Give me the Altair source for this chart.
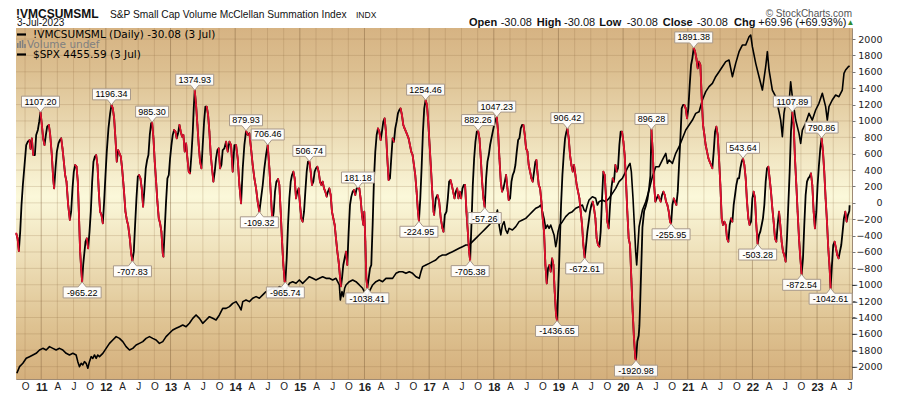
import altair as alt
import pandas as pd
import numpy as np

# ---------------- data ----------------
# McClellan Summation Index (decimal year, value)
msi_t = [2010.613, 2010.634, 2010.654, 2010.675, 2010.695, 2010.716, 2010.742, 2010.768, 2010.793, 2010.819,
         2010.835, 2010.855, 2010.876, 2010.902, 2010.922, 2010.948, 2010.969, 2010.989, 2011.010, 2011.030,
         2011.051, 2011.072, 2011.092, 2011.118, 2011.139, 2011.164, 2011.185, 2011.200, 2011.221, 2011.242,
         2011.267, 2011.288, 2011.309, 2011.329, 2011.350, 2011.370, 2011.391, 2011.417, 2011.443, 2011.463,
         2011.484, 2011.504, 2011.525, 2011.546, 2011.566, 2011.582, 2011.602, 2011.618, 2011.633, 2011.649,
         2011.664, 2011.685, 2011.705, 2011.726, 2011.747, 2011.767, 2011.788, 2011.808, 2011.829, 2011.850,
         2011.870, 2011.891, 2011.911, 2011.932, 2011.953, 2011.973, 2011.994, 2012.014, 2012.040, 2012.066,
         2012.087, 2012.107, 2012.128, 2012.148, 2012.169, 2012.190, 2012.210, 2012.231, 2012.251, 2012.277,
         2012.303, 2012.324, 2012.344, 2012.370, 2012.391, 2012.411, 2012.432, 2012.452, 2012.473, 2012.494,
         2012.514, 2012.535, 2012.555, 2012.576, 2012.597, 2012.617, 2012.638, 2012.658, 2012.679, 2012.700,
         2012.715, 2012.736, 2012.756, 2012.777, 2012.797, 2012.818, 2012.839, 2012.859, 2012.880, 2012.890,
         2012.911, 2012.931, 2012.952, 2012.973, 2012.993, 2013.014, 2013.034, 2013.055, 2013.076, 2013.096,
         2013.117, 2013.138, 2013.158, 2013.179, 2013.199, 2013.220, 2013.241, 2013.261, 2013.282, 2013.302,
         2013.323, 2013.344, 2013.359, 2013.374, 2013.395, 2013.416, 2013.436, 2013.457, 2013.478, 2013.498,
         2013.519, 2013.539, 2013.560, 2013.581, 2013.601, 2013.622, 2013.642, 2013.663, 2013.684, 2013.704,
         2013.725, 2013.745, 2013.766, 2013.787, 2013.807, 2013.833, 2013.859, 2013.885, 2013.911, 2013.936,
         2013.962, 2013.988, 2014.014, 2014.039, 2014.065, 2014.091, 2014.117, 2014.142, 2014.168, 2014.194,
         2014.220, 2014.245, 2014.271, 2014.297, 2014.323, 2014.348, 2014.374, 2014.400, 2014.426, 2014.451,
         2014.477, 2014.503, 2014.529, 2014.555, 2014.575, 2014.596, 2014.616, 2014.637, 2014.663, 2014.683,
         2014.704, 2014.725, 2014.745, 2014.766, 2014.776, 2014.797, 2014.817, 2014.838, 2014.859, 2014.879,
         2014.900, 2014.920, 2014.941, 2014.962, 2014.982, 2015.003, 2015.023, 2015.044, 2015.065, 2015.085,
         2015.106, 2015.126, 2015.147, 2015.168, 2015.188, 2015.209, 2015.229, 2015.250, 2015.271, 2015.291,
         2015.312, 2015.332, 2015.353, 2015.374, 2015.394, 2015.415, 2015.435, 2015.456, 2015.477, 2015.497,
         2015.518, 2015.539, 2015.559, 2015.580, 2015.600, 2015.621, 2015.636, 2015.652, 2015.672, 2015.693,
         2015.714, 2015.734, 2015.755, 2015.776, 2015.796, 2015.817, 2015.837, 2015.858, 2015.879, 2015.899,
         2015.920, 2015.940, 2015.961, 2015.982, 2015.997, 2016.013, 2016.028, 2016.044, 2016.064, 2016.085,
         2016.105, 2016.126, 2016.147, 2016.167, 2016.188, 2016.208, 2016.229, 2016.250, 2016.270, 2016.291,
         2016.311, 2016.332, 2016.353, 2016.373, 2016.394, 2016.414, 2016.435, 2016.456, 2016.476, 2016.497,
         2016.517, 2016.538, 2016.558, 2016.579, 2016.600, 2016.620, 2016.641, 2016.662, 2016.682, 2016.703,
         2016.723, 2016.744, 2016.765, 2016.785, 2016.806, 2016.827, 2016.842, 2016.863, 2016.883, 2016.904,
         2016.924, 2016.945, 2016.966, 2016.986, 2017.007, 2017.028, 2017.048, 2017.069, 2017.077, 2017.103,
         2017.129, 2017.155, 2017.180, 2017.206, 2017.222, 2017.242, 2017.268, 2017.289, 2017.309, 2017.330,
         2017.350, 2017.371, 2017.392, 2017.412, 2017.433, 2017.453, 2017.474, 2017.495, 2017.515, 2017.536,
         2017.556, 2017.577, 2017.598, 2017.618, 2017.634, 2017.654, 2017.675, 2017.696, 2017.716, 2017.737,
         2017.757, 2017.778, 2017.799, 2017.819, 2017.840, 2017.860, 2017.881, 2017.902, 2017.922, 2017.943,
         2017.963, 2017.984, 2018.005, 2018.025, 2018.046, 2018.066, 2018.087, 2018.108, 2018.128, 2018.149,
         2018.170, 2018.190, 2018.211, 2018.231, 2018.252, 2018.273, 2018.293, 2018.314, 2018.334, 2018.355,
         2018.376, 2018.396, 2018.417, 2018.437, 2018.458, 2018.479, 2018.499, 2018.520, 2018.540, 2018.561,
         2018.582, 2018.602, 2018.623, 2018.643, 2018.659, 2018.674, 2018.695, 2018.716, 2018.736, 2018.757,
         2018.777, 2018.798, 2018.819, 2018.839, 2018.860, 2018.880, 2018.901, 2018.922, 2018.942, 2018.963,
         2018.978, 2018.999, 2019.020, 2019.040, 2019.061, 2019.081, 2019.102, 2019.123, 2019.138, 2019.159,
         2019.179, 2019.200, 2019.221, 2019.241, 2019.262, 2019.282, 2019.303, 2019.324, 2019.344, 2019.365,
         2019.385, 2019.406, 2019.427, 2019.447, 2019.468, 2019.488, 2019.509, 2019.530, 2019.550, 2019.571,
         2019.591, 2019.612, 2019.633, 2019.653, 2019.674, 2019.694, 2019.715, 2019.736, 2019.756, 2019.777,
         2019.798, 2019.818, 2019.839, 2019.859, 2019.880, 2019.901, 2019.921, 2019.942, 2019.962, 2019.983,
         2020.004, 2020.024, 2020.045, 2020.065, 2020.086, 2020.107, 2020.127, 2020.148, 2020.168, 2020.189,
         2020.199, 2020.220, 2020.241, 2020.252, 2020.263, 2020.278, 2020.299, 2020.325, 2020.350, 2020.376,
         2020.402, 2020.422, 2020.438, 2020.458, 2020.479, 2020.499, 2020.520, 2020.541, 2020.561, 2020.582,
         2020.602, 2020.623, 2020.644, 2020.664, 2020.685, 2020.706, 2020.726, 2020.742, 2020.762, 2020.783,
         2020.803, 2020.824, 2020.845, 2020.865, 2020.886, 2020.906, 2020.927, 2020.948, 2020.968, 2020.989,
         2021.009, 2021.030, 2021.051, 2021.071, 2021.092, 2021.113, 2021.133, 2021.154, 2021.174, 2021.195,
         2021.216, 2021.236, 2021.257, 2021.277, 2021.298, 2021.319, 2021.339, 2021.360, 2021.380, 2021.401,
         2021.422, 2021.442, 2021.463, 2021.483, 2021.504, 2021.525, 2021.545, 2021.566, 2021.587, 2021.607,
         2021.628, 2021.648, 2021.669, 2021.690, 2021.710, 2021.731, 2021.751, 2021.772, 2021.793, 2021.813,
         2021.834, 2021.854, 2021.875, 2021.896, 2021.916, 2021.937, 2021.957, 2021.978, 2021.999, 2022.019,
         2022.040, 2022.060, 2022.081, 2022.102, 2022.122, 2022.143, 2022.163, 2022.184, 2022.205, 2022.225,
         2022.246, 2022.266, 2022.287, 2022.308, 2022.328, 2022.349, 2022.370, 2022.390, 2022.411, 2022.431,
         2022.452, 2022.473, 2022.493, 2022.514, 2022.534, 2022.555, 2022.576, 2022.596, 2022.617, 2022.638,
         2022.658, 2022.679, 2022.699, 2022.720, 2022.741, 2022.761, 2022.782, 2022.802, 2022.823, 2022.844,
         2022.864, 2022.885, 2022.905, 2022.926, 2022.947, 2022.967, 2022.988, 2023.008, 2023.029, 2023.050,
         2023.070, 2023.091, 2023.111, 2023.132, 2023.153, 2023.173, 2023.194, 2023.209, 2023.230, 2023.250,
         2023.271, 2023.292, 2023.312, 2023.333, 2023.353, 2023.374, 2023.395, 2023.415, 2023.436, 2023.457,
         2023.477, 2023.499, 2023.503]
msi_v = [-372, -433, -588, -352, -26, 218, 462, 706, 747, 767,
         658, 788, 584, 584, 829, 890, 991, 1107.20, 951, 788,
         706, 829, 930, 951, 829, 584, 299, 177, 422, 625,
         727, 767, 788, 666, 503, 340, 259, -26, -209, -108,
         177, 381, 462, 442, 259, -108, -596, -800, -965.22, -759,
         -637, -474, -433, -555, -352, -108, 259, 503, 564, 584,
         462, 137, -108, -148, -250, 15, 340, 625, 910, 1093,
         1196.34, 1154, 1032, 788, 503, 645, 605, 564, 422, 177,
         -108, -209, -270, -433, -616, -707.83, -596, -270, 55, 320,
         340, 299, 177, -47, 177, 422, 523, 584, 829, 971,
         985.30, 788, 503, 259, 15, -189, -250, -352, -616, -657,
         -311, 15, 299, 340, 544, 706, 829, 890, 869, 788,
         849, 951, 869, 808, 829, 625, 727, 544, 381, 360,
         584, 869, 1154, 1374.93, 1195, 951, 706, 503, 422, 706,
         991, 1174, 1174, 1073, 869, 584, 422, 259, 381, 544,
         645, 666, 422, 462, 645, 666, 747, 625, 747, 706,
         381, 706, 706, 544, 218, -6, 422, 706, 879.93, 829,
         849, 666, 462, 299, 177, 15, -109.32, 55, 218, 422,
         584, 706.46, 422, 55, -230, -108, 137, 259, 291, 218,
         -108, -474, -759, -962, -965.74, -677, -270, 55, 259, 340,
         381, 299, 55, 137, 177, -26, -189, -230, -108, 137,
         381, 503, 506.74, 381, 218, 259, 381, 422, 442, 381,
         259, 218, 259, 177, 137, 76, 137, 177, 96, -108,
         -189, -270, -433, -596, -718, -900, -1020, -922, -759, -677,
         -596, -759, -352, -26, 76, 137, 157, 96, 177, 181.18,
         177, 55, -148, -270, -108, -474, -922, -1038.41, -922, -800,
         -759, -270, 299, 625, 829, 910, 869, 767, 869, 991,
         1032, 869, 544, 279, 299, 544, 788, 747, 910, 991,
         1093, 1134, 1154, 1073, 951, 910, 869, 829, 788, 706,
         625, 584, 462, 340, 137, -108, -224.95, 55, 422, 869,
         1154, 1254.46, 1195, 991, 706, 422, 137, -108, -148, 55,
         96, 15, -189, -311, -352, -148, -108, 55, 259, 279,
         218, 137, 55, 137, 177, 55, 137, 55, 177, 218,
         218, -108, -352, -596, -705.38, -270, 218, 544, 747, 869,
         882.26, 788, 544, 259, 55, -57.26, 299, 503, 584, 706,
         788, 869, 951, 1012, 1047.23, 869, 544, 259, 137, 177,
         259, 340, 177, 34, 55, 259, 340, 381, 462, 625,
         767, 788, 910, 951, 951, 829, 666, 625, 462, 381,
         299, 259, 381, 503, 523, 381, 218, 177, 15, -189,
         -352, -759, -983, -800, -759, -840, -677, -759, -1084, -1369,
         -1436.65, -1003, -515, -26, 340, 584, 788, 869, 906.42, 788,
         584, 462, 381, 462, 340, 218, 137, 55, -108, -270,
         -515, -672.61, -515, -352, -230, -108, -26, 15, -67, -189,
         -433, -515, -535, -352, 55, 381, 340, 55, -230, -311,
         -26, 177, 299, 259, 462, 381, 422, 706, 869, 869,
         747, 584, 259, -108, -433, -515, -922, -1328, -1654, -1898,
         -1920.98, -1690, -1620, -1500, -1250, -850, -300, -100, -40, 40,
         180, 330, 896.28, 626, 218, 15, 55, 96, 55, 15,
         96, 137, 96, 15, -26, -108, -230, -255.95, -26, 55,
         15, -26, 137, 462, 788, 1154, 1195, 1195, 1154, 1032,
         1154, 1439, 1683, 1765, 1891.38, 1846, 1765, 1643, 1724, 1683,
         1276, 951, 829, 706, 625, 544, 503, 462, 422, 625,
         869, 930, 829, 544, 218, -189, -270, -230, -270, -433,
         -474, -270, -189, -230, -26, 96, 218, 299, 299, 422,
         503, 543.64, 462, 299, 15, -189, -270, -230, 55, 137,
         55, -270, -503.28, -392, -352, -270, -189, -26, 259, 422,
         442, 299, 137, -67, -230, -433, -474, -270, -108, -270,
         -474, -596, -637, -718, -433, -26, 381, 869, 1107.89, 951,
         544, 218, -108, -433, -677, -872.54, -677, -270, 96, 259,
         299, 320, 360, 218, -108, -311, -108, 218, 462, 666,
         790.86, 625, 381, 55, -230, -555, -800, -1042.61, -759, -515,
         -474, -555, -637, -677, -596, -515, -352, -189, -108, -230,
         -150, -100.04, -30.08]

# S&P 500 overlay (decimal year, close)
spx_t = [2010.623, 2010.665, 2010.716, 2010.768, 2010.819, 2010.871, 2010.922, 2010.974, 2011.025, 2011.077,
         2011.128, 2011.180, 2011.231, 2011.283, 2011.334, 2011.386, 2011.437, 2011.489, 2011.540, 2011.566,
         2011.592, 2011.618, 2011.643, 2011.669, 2011.695, 2011.721, 2011.746, 2011.772, 2011.798, 2011.824,
         2011.850, 2011.875, 2011.901, 2011.953, 2012.004, 2012.056, 2012.107, 2012.159, 2012.210, 2012.262,
         2012.313, 2012.365, 2012.416, 2012.468, 2012.519, 2012.571, 2012.622, 2012.674, 2012.725, 2012.777,
         2012.828, 2012.880, 2012.931, 2012.983, 2013.034, 2013.086, 2013.138, 2013.189, 2013.241, 2013.292,
         2013.344, 2013.395, 2013.447, 2013.498, 2013.550, 2013.601, 2013.653, 2013.704, 2013.756, 2013.807,
         2013.859, 2013.911, 2013.962, 2014.014, 2014.065, 2014.091, 2014.117, 2014.168, 2014.220, 2014.271,
         2014.323, 2014.374, 2014.426, 2014.477, 2014.529, 2014.580, 2014.632, 2014.683, 2014.735, 2014.761,
         2014.786, 2014.838, 2014.889, 2014.941, 2014.992, 2015.044, 2015.096, 2015.147, 2015.199, 2015.250,
         2015.302, 2015.353, 2015.405, 2015.456, 2015.508, 2015.559, 2015.611, 2015.626, 2015.652, 2015.672,
         2015.693, 2015.714, 2015.765, 2015.817, 2015.868, 2015.920, 2015.971, 2016.023, 2016.049, 2016.074,
         2016.126, 2016.177, 2016.229, 2016.280, 2016.332, 2016.383, 2016.435, 2016.487, 2016.538, 2016.589,
         2016.641, 2016.693, 2016.744, 2016.796, 2016.847, 2016.873, 2016.899, 2016.950, 2017.002, 2017.053,
         2017.103, 2017.155, 2017.206, 2017.258, 2017.309, 2017.361, 2017.412, 2017.464, 2017.515, 2017.567,
         2017.618, 2017.670, 2017.721, 2017.773, 2017.824, 2017.876, 2017.927, 2017.979, 2018.030, 2018.056,
         2018.082, 2018.108, 2018.133, 2018.159, 2018.185, 2018.211, 2018.236, 2018.288, 2018.340, 2018.391,
         2018.443, 2018.494, 2018.546, 2018.597, 2018.649, 2018.700, 2018.726, 2018.752, 2018.777, 2018.803,
         2018.829, 2018.855, 2018.880, 2018.906, 2018.932, 2018.958, 2018.973, 2018.994, 2019.020, 2019.061,
         2019.112, 2019.164, 2019.215, 2019.267, 2019.318, 2019.370, 2019.396, 2019.421, 2019.447, 2019.473,
         2019.524, 2019.576, 2019.602, 2019.628, 2019.679, 2019.731, 2019.782, 2019.834, 2019.885, 2019.937,
         2019.988, 2020.040, 2020.091, 2020.107, 2020.127, 2020.153, 2020.174, 2020.194, 2020.210, 2020.247,
         2020.299, 2020.350, 2020.402, 2020.453, 2020.505, 2020.556, 2020.608, 2020.660, 2020.685, 2020.711,
         2020.763, 2020.814, 2020.866, 2020.969, 2021.072, 2021.123, 2021.175, 2021.226, 2021.278, 2021.329,
         2021.381, 2021.432, 2021.484, 2021.535, 2021.587, 2021.638, 2021.690, 2021.741, 2021.793, 2021.844,
         2021.896, 2021.948, 2021.973, 2021.999, 2022.051, 2022.102, 2022.154, 2022.205, 2022.231, 2022.257,
         2022.308, 2022.360, 2022.411, 2022.437, 2022.463, 2022.488, 2022.514, 2022.566, 2022.591, 2022.617,
         2022.669, 2022.720, 2022.746, 2022.772, 2022.823, 2022.875, 2022.926, 2022.978, 2023.029, 2023.081,
         2023.132, 2023.158, 2023.184, 2023.235, 2023.287, 2023.338, 2023.390, 2023.416, 2023.441, 2023.483,
         2023.503]
spx_v = [1066, 1139, 1176, 1231, 1249, 1268, 1286, 1323, 1341, 1323,
         1360, 1341, 1323, 1341, 1323, 1286, 1268, 1286, 1268, 1194,
         1139, 1176, 1158, 1194, 1176, 1121, 1194, 1249, 1231, 1268,
         1231, 1268, 1249, 1286, 1341, 1396, 1433, 1470, 1451, 1415,
         1360, 1323, 1341, 1378, 1396, 1415, 1451, 1470, 1451, 1433,
         1396, 1415, 1470, 1507, 1543, 1562, 1580, 1598, 1580, 1617,
         1672, 1709, 1672, 1617, 1654, 1690, 1672, 1654, 1709, 1782,
         1782, 1801, 1837, 1856, 1801, 1764, 1856, 1874, 1856, 1893,
         1911, 1893, 1930, 1966, 1984, 2003, 1984, 2021, 2003, 1966,
         1984, 2058, 2076, 2058, 2095, 2058, 2095, 2131, 2113, 2095,
         2113, 2131, 2113, 2113, 2095, 2113, 2040, 1874, 1966, 1911,
         2003, 2040, 2076, 2095, 2076, 2040, 2003, 1929, 1911, 1966,
         2040, 2076, 2095, 2076, 2113, 2113, 2113, 2168, 2186, 2186,
         2168, 2186, 2168, 2131, 2113, 2186, 2242, 2260, 2278, 2297,
         2315, 2352, 2370, 2370, 2389, 2407, 2425, 2444, 2462, 2480,
         2480, 2517, 2554, 2591, 2627, 2664, 2701, 2738, 2793, 2866,
         2701, 2591, 2701, 2738, 2646, 2609, 2664, 2646, 2683, 2738,
         2756, 2774, 2811, 2848, 2885, 2903, 2921, 2848, 2774, 2664,
         2701, 2664, 2701, 2646, 2591, 2462, 2517, 2627, 2701, 2738,
         2793, 2830, 2848, 2885, 2903, 2921, 2866, 2848, 2921, 2977,
         3013, 2995, 2921, 2958, 2977, 2958, 2995, 3050, 3105, 3179,
         3215, 3289, 3363, 3381, 3289, 2995, 2701, 2407, 2260, 2682,
         2866, 2958, 3087, 3234, 3344, 3344, 3418, 3491, 3381, 3418,
         3381, 3491, 3564, 3748, 3858, 3932, 3950, 4079, 4171, 4226,
         4263, 4336, 4391, 4446, 4502, 4520, 4336, 4483, 4612, 4685,
         4685, 4777, 4796, 4667, 4483, 4336, 4189, 4446, 4612, 4410,
         4189, 4116, 3950, 3858, 3675, 3932, 4042, 4042, 4281, 4116,
         3858, 3711, 3601, 3748, 3822, 3932, 3858, 3969, 4042, 4153,
         4006, 3858, 4006, 4079, 4134, 4116, 4189, 4373, 4410, 4446,
         4455.59]

# annotated peaks / troughs
lab_t = [2010.989, 2011.633, 2012.087, 2012.411, 2012.715, 2013.374, 2014.168, 2014.374, 2014.503, 2014.776,
         2015.147, 2015.899, 2016.044, 2016.842, 2016.945, 2017.634, 2017.757, 2017.860, 2018.046, 2018.978,
         2019.138, 2019.406, 2020.199, 2020.438, 2020.742, 2021.092, 2021.854, 2022.081, 2022.617, 2022.761,
         2023.070, 2023.209]
lab_v = [1107.20, -965.22, 1196.34, -707.83, 985.30, 1374.93, 879.93, -109.32, 706.46, -965.74,
         506.74, 181.18, -1038.41, -224.95, 1254.46, -705.38, 882.26, -57.26, 1047.23, -1436.65,
         906.42, -672.61, -1920.98, 896.28, -255.95, 1891.38, 543.64, -503.28, 1107.89, -872.54,
         790.86, -1042.61]
lab_kind = ["peak", "trough", "peak", "trough", "peak", "peak", "peak", "trough", "peak", "trough",
            "peak", "peak", "trough", "trough", "peak", "trough", "peak", "trough", "peak", "trough",
            "peak", "trough", "trough", "peak", "trough", "peak", "peak", "trough", "peak", "trough",
            "peak", "trough"]

# ---------------- layout ----------------
W, H = 836, 351
X0, X1 = 2010.61, 2023.54
xs = alt.Scale(domain=[X0, X1], nice=False, zero=False)
ys = alt.Scale(domain=[-2151, 2135], nice=False, zero=False)
ss = alt.Scale(domain=[1003, 4873], nice=False, zero=False)

RED = "#e3112f"
FONT = "Liberation Sans"
VFONT = "DejaVu Sans"

quarters = [2010.75 + 0.25 * i for i in range(52)]
levels = list(range(-2000, 2001, 200))

x_axis = alt.Axis(
    values=quarters, title=None, grid=False, domain=False, ticks=False,
    labelFlush=False, labelOverlap=False, labelPadding=2,
    labelExpr="datum.value % 1 == 0 ? format(datum.value % 100, '02d') : "
              "(datum.value % 1 == 0.25 ? 'A' : (datum.value % 1 == 0.5 ? 'J' : 'O'))",
    labelFontWeight={"condition": {"test": "datum.value % 1 == 0", "value": "bold"}, "value": "normal"},
    labelFontSize={"condition": {"test": "datum.value % 1 == 0", "value": 11}, "value": 10},
    labelFont=FONT, labelColor="#222")

msi = pd.DataFrame({"t": msi_t, "v": msi_v})
seg = msi.assign(t2=msi["t"].shift(-1), v2=msi["v"].shift(-1)).dropna()
down = seg[seg["v2"] < seg["v"]]
spx = pd.DataFrame({"t": spx_t, "s": spx_v})
labs = pd.DataFrame({"t": lab_t, "v": lab_v, "kind": lab_kind})
one = pd.DataFrame({"a": [1]})

bg = alt.Chart(one).mark_rect(
    color=alt.Gradient(gradient="linear", x1=0, x2=0, y1=0, y2=1,
                       stops=[alt.GradientStop(offset=0, color="#d6b383"),
                              alt.GradientStop(offset=0.12, color="#dcbf90"),
                              alt.GradientStop(offset=0.48, color="#fbf8da"),
                              alt.GradientStop(offset=0.85, color="#dec291"),
                              alt.GradientStop(offset=1, color="#d4af7c")])
).encode(x=alt.value(0), x2=alt.value(W), y=alt.value(0), y2=alt.value(H))

hgrid = alt.Chart(pd.DataFrame({"g": levels})).mark_rule(
    stroke="#8c6a40", strokeOpacity=0.22, strokeWidth=1
).encode(y=alt.Y("g:Q", scale=ys, axis=alt.Axis(
    orient="right", values=levels, format="d", title=None, grid=False, domain=False,
    tickSize=3, tickColor="#777", labelAlign="right", labelPadding=27,
    labelFont=VFONT, labelFontSize=9.5, labelColor="#222")))

vgrid = alt.Chart(pd.DataFrame({"q": quarters})).mark_rule(strokeWidth=1).encode(
    x=alt.X("q:Q", scale=xs, axis=x_axis),
    stroke=alt.condition("datum.q % 1 == 0", alt.value("#7a5a38"), alt.value("#8c6a40")),
    strokeOpacity=alt.condition("datum.q % 1 == 0", alt.value(0.42), alt.value(0.22)))

spx_line = alt.Chart(spx).mark_line(color="#000", strokeWidth=1.6, strokeJoin="round").encode(
    x=alt.X("t:Q", scale=xs, axis=x_axis),
    y=alt.Y("s:Q", scale=ss, axis=None))

msi_line = alt.Chart(msi).mark_line(color="#000", strokeWidth=1.8, strokeJoin="round").encode(
    x=alt.X("t:Q", scale=xs, axis=x_axis),
    y=alt.Y("v:Q", scale=ys, axis=None))

msi_red = alt.Chart(down).mark_rule(color=RED, strokeWidth=1.8, strokeCap="round").encode(
    x=alt.X("t:Q", scale=xs, axis=x_axis), x2="t2:Q",
    y=alt.Y("v:Q", scale=ys, axis=None), y2="v2:Q")

lab_base = alt.Chart(labs).transform_calculate(
    label="(datum.v < 0 ? '-' : '') + format(abs(datum.v), '.2f')"
).transform_calculate(
    hw="(length(datum.label) * 5 + 3) / 2"
).transform_calculate(
    path="datum.kind == 'peak' ? "
         "'M0,0L-4,-5L' + (-datum.hw) + ',-5L' + (-datum.hw) + ',-16L' + datum.hw + ',-16L' + datum.hw + ',-5L4,-5Z' : "
         "'M0,0L-4,5L' + (-datum.hw) + ',5L' + (-datum.hw) + ',16L' + datum.hw + ',16L' + datum.hw + ',5L4,5Z'"
)
boxes = lab_base.mark_point(filled=True, color="#ffffff", stroke="#a8998a", strokeWidth=1,
                            size=4, opacity=1, fillOpacity=0.92).encode(
    x=alt.X("t:Q", scale=xs, axis=x_axis),
    y=alt.Y("v:Q", scale=ys, axis=None),
    shape=alt.Shape("path:N", scale=None))
txt_peak = lab_base.transform_filter("datum.kind == 'peak'").mark_text(
    font=FONT, fontSize=9, color="#000", dy=-10.5, baseline="middle").encode(
    x=alt.X("t:Q", scale=xs, axis=x_axis), y=alt.Y("v:Q", scale=ys, axis=None), text="label:N")
txt_trough = lab_base.transform_filter("datum.kind == 'trough'").mark_text(
    font=FONT, fontSize=9, color="#000", dy=11, baseline="middle").encode(
    x=alt.X("t:Q", scale=xs, axis=x_axis), y=alt.Y("v:Q", scale=ys, axis=None), text="label:N")


def txt(s, x, y, size=10.5, weight="normal", font=FONT, color="#111", align="left", baseline="alphabetic"):
    return alt.Chart(one).mark_text(text=s, fontSize=size, fontWeight=weight, font=font, color=color,
                                    align=align, baseline=baseline).encode(
        x=alt.value(x), y=alt.value(y))


def dash(y):
    return alt.Chart(one).mark_rule(color="#000", strokeWidth=2.2).encode(
        x=alt.value(1), x2=alt.value(10), y=alt.value(y))


vol_icon = alt.Chart(one).mark_point(
    filled=True, color="#808080", size=4, opacity=1,
    shape="M0,0h1.6v-5h-1.6zM2.4,0h1.6v-7h-1.6zM4.8,0h1.6v-8h-1.6zM7.2,0h1.6v-4h-1.6z"
).encode(x=alt.value(1), y=alt.value(20))

texts = [
    txt("!VMCSUMSML", 0, -10, size=12, weight="bold"),
    txt("S&P Small Cap Volume McClellan Summation Index", 94, -10, size=10.2),
    txt("INDX", 340, -10, size=8.5),
    txt("3-Jul-2023", 1, -2.3, size=10),
    txt("\u00a9 StockCharts.com", 836, -11, size=10, color="#555", align="right"),
    txt("Open", 453, -2.3, size=11, weight="bold"),
    txt("-30.08", 484.7, -2.3, size=11),
    txt("High", 520.7, -2.3, size=11, weight="bold"),
    txt("-30.08", 548, -2.3, size=11),
    txt("Low", 583.3, -2.3, size=11, weight="bold"),
    txt("-30.08", 610.7, -2.3, size=11),
    txt("Close", 646.7, -2.3, size=11, weight="bold"),
    txt("-30.08", 680.7, -2.3, size=11),
    txt("Chg", 718, -2.3, size=11, weight="bold"),
    txt("+69.96 (+69.93%)", 742.3, -2.3, size=11),
    txt("\u25b2", 834.5, -3, size=8, color="#2e8b2e", align="center"),
    dash(6.5),
    txt("!VMCSUMSML (Daily) -30.08 (3 Jul)", 17, 6.5, size=10.5, font=VFONT, color="#000", baseline="middle"),
    vol_icon,
    txt("Volume undef", 11, 16.5, size=10.5, font=VFONT, color="#808080", baseline="middle"),
    dash(26.5),
    txt("$SPX 4455.59 (3 Jul)", 17, 26.5, size=10.5, font=VFONT, color="#000", baseline="middle"),
]

chart = alt.layer(
    bg, hgrid, vgrid, spx_line, msi_line, msi_red, boxes, txt_peak, txt_trough, *texts
).resolve_scale(y="independent").properties(
    width=W, height=H,
    autosize=alt.AutoSizeParams(type="none"),
    padding={"left": 8, "top": 20, "right": 32, "bottom": 12},
    background="#ffffff",
).configure_view(stroke="#9e8a74", strokeWidth=1)

chart.save("out.html", embed_options={"renderer": "svg", "actions": False})
